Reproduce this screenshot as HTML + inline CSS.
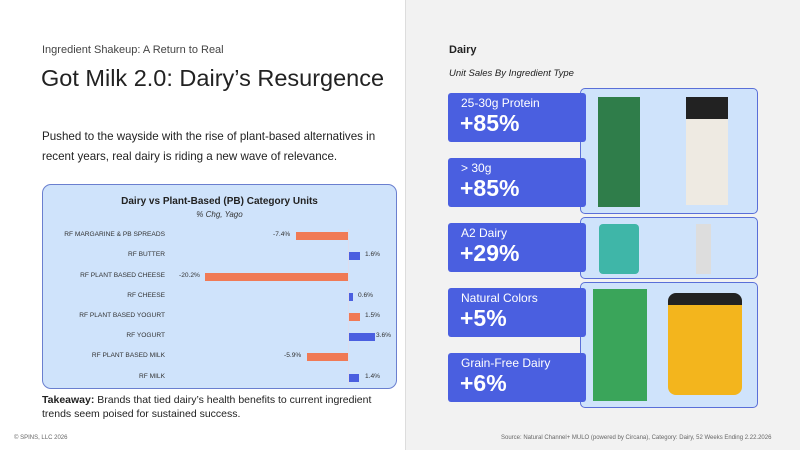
<!DOCTYPE html>
<html><head><meta charset="utf-8"><style>
*{margin:0;padding:0;box-sizing:border-box}
body{width:800px;height:450px;position:relative;font-family:"Liberation Sans",sans-serif;background:#fff;overflow:hidden}
.abs{position:absolute}
.lab{position:absolute;left:448px;width:138px;height:49px;background:#4a5fe0;color:#fff;border-radius:3px}
.lab .t{position:absolute;left:13px;top:3px;font-size:12px}
.lab .v{position:absolute;left:12px;top:17px;font-size:23px;font-weight:700}
.pan{position:absolute;left:580px;width:178px;background:#cfe3fb;border:1px solid #5a6fd8;border-radius:5px}
.row{position:absolute;left:0;width:355px;height:20px;font-size:6.6px;color:#333}
.row .n{position:absolute;right:233px;top:5px;white-space:nowrap}
.bar{position:absolute;top:6px;height:8px}
.row .p{position:absolute;top:5px;font-size:6.6px}
</style></head><body>
<div class="abs" style="left:405px;top:0;width:395px;height:450px;background:#f2f2f2;border-left:1px solid #ddd"></div>
<div class="abs" style="left:42px;top:44px;font-size:11px;color:#444">Ingredient Shakeup: A Return to Real</div>
<div class="abs" style="left:41px;top:65px;font-size:23.5px;color:#222">Got Milk 2.0: Dairy’s Resurgence</div>
<div class="abs" style="left:42px;top:127px;font-size:11.6px;color:#222;line-height:20px;width:360px">Pushed to the wayside with the rise of plant-based alternatives in recent years, real dairy is riding a new wave of relevance.</div>
<div class="abs" style="left:42px;top:184px;width:355px;height:205px;background:#cfe3fb;border:1px solid #6a7fcf;border-radius:9px">
<div class="abs" style="left:0;width:353px;top:11px;text-align:center;font-size:10px;font-weight:bold;color:#222">Dairy vs Plant-Based (PB) Category Units</div>
<div class="abs" style="left:0;width:353px;top:25px;text-align:center;font-size:8px;font-style:italic;color:#333">% Chg, Yago</div>
<div class="row" style="top:41px"><span class="n">RF MARGARINE &amp; PB SPREADS</span><div class="bar" style="left:253px;width:53px;background:#f07a55"></div><span class="p" style="left:230px">-7.4%</span></div>
<div class="row" style="top:61px"><span class="n">RF BUTTER</span><div class="bar" style="left:306px;width:11px;background:#4a5fe0"></div><span class="p" style="left:322px">1.6%</span></div>
<div class="row" style="top:82px"><span class="n">RF PLANT BASED CHEESE</span><div class="bar" style="left:162px;width:144px;background:#f07a55"></div><span class="p" style="left:136px">-20.2%</span></div>
<div class="row" style="top:102px"><span class="n">RF CHEESE</span><div class="bar" style="left:306px;width:4px;background:#4a5fe0"></div><span class="p" style="left:315px">0.6%</span></div>
<div class="row" style="top:122px"><span class="n">RF PLANT BASED YOGURT</span><div class="bar" style="left:306px;width:11px;background:#f07a55"></div><span class="p" style="left:322px">1.5%</span></div>
<div class="row" style="top:142px"><span class="n">RF YOGURT</span><div class="bar" style="left:306px;width:26px;background:#4a5fe0"></div><span class="p" style="left:333px">3.6%</span></div>
<div class="row" style="top:162px"><span class="n">RF PLANT BASED MILK</span><div class="bar" style="left:264px;width:42px;background:#f07a55"></div><span class="p" style="left:241px">-5.9%</span></div>
<div class="row" style="top:183px"><span class="n">RF MILK</span><div class="bar" style="left:306px;width:10px;background:#4a5fe0"></div><span class="p" style="left:322px">1.4%</span></div>
<div class="abs" style="left:305px;top:44px;width:1px;height:156px;background:#dde"></div>
</div>
<div class="abs" style="left:42px;top:393px;font-size:10.5px;color:#222;line-height:14px;width:360px"><b>Takeaway:</b> Brands that tied dairy’s health benefits to current ingredient trends seem poised for sustained success.</div>
<div class="abs" style="left:14px;top:435px;font-size:6px;color:#666">© SPINS, LLC 2026</div>
<div class="abs" style="left:501px;top:435px;font-size:6px;color:#666">Source: Natural Channel+ MULO (powered by Circana), Category: Dairy,  52 Weeks Ending  2.22.2026</div>
<div class="abs" style="left:449px;top:44px;font-size:11px;font-weight:bold;color:#222">Dairy</div>
<div class="abs" style="left:449px;top:68px;font-size:9.5px;font-style:italic;color:#222">Unit Sales By Ingredient Type</div>
<div class="pan" style="top:88px;height:126px">
<div class="abs" style="left:17px;top:8px;width:42px;height:110px;background:#2f7d4a"></div>
<div class="abs" style="left:105px;top:8px;width:42px;height:108px;background:#eeeae2;border-top:22px solid #222"></div>
</div>
<div class="pan" style="top:217px;height:62px">
<div class="abs" style="left:18px;top:6px;width:40px;height:50px;background:#3fb6a8;border-radius:4px"></div>
<div class="abs" style="left:115px;top:6px;width:15px;height:50px;background:#ddd"></div>
</div>
<div class="pan" style="top:282px;height:126px">
<div class="abs" style="left:12px;top:6px;width:54px;height:112px;background:#3aa55a"></div>
<div class="abs" style="left:87px;top:10px;width:74px;height:102px;background:#f3b51d;border-radius:8px;border-top:12px solid #222"></div>
</div>
<div class="lab" style="top:93px"><span class="t">25-30g Protein</span><b class="v">+85%</b></div>
<div class="lab" style="top:158px"><span class="t">&gt; 30g</span><b class="v">+85%</b></div>
<div class="lab" style="top:223px"><span class="t">A2 Dairy</span><b class="v">+29%</b></div>
<div class="lab" style="top:288px"><span class="t">Natural Colors</span><b class="v">+5%</b></div>
<div class="lab" style="top:353px"><span class="t">Grain-Free Dairy</span><b class="v">+6%</b></div>
</body></html>
